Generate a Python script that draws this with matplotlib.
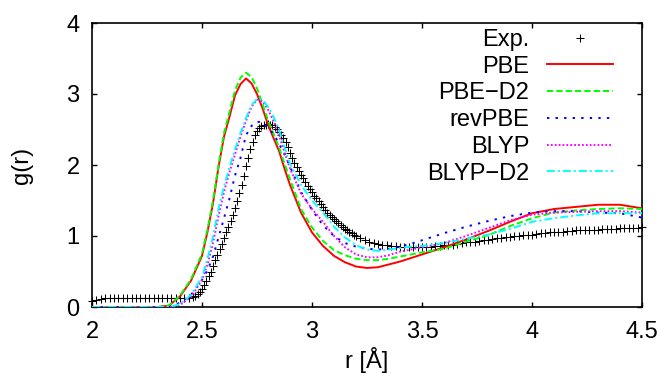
import matplotlib
matplotlib.use("Agg")
import matplotlib.pyplot as plt
import numpy as np

plt.rcParams['font.family'] = ['Liberation Sans', 'DejaVu Sans']

# ---------------- data ----------------
r_exp = [2.00, 2.02, 2.04, 2.06, 2.08, 2.10, 2.12, 2.14, 2.16, 2.18,
         2.20, 2.22, 2.24, 2.26, 2.28, 2.30, 2.32, 2.34, 2.36, 2.38,
         2.40, 2.42, 2.44, 2.46, 2.47, 2.48, 2.49, 2.50, 2.51, 2.52, 2.53,
         2.54, 2.55, 2.56, 2.57, 2.58, 2.59, 2.60, 2.61, 2.62, 2.63, 2.64,
         2.65, 2.66, 2.67, 2.68, 2.69, 2.70, 2.71, 2.72, 2.73, 2.74, 2.75,
         2.76, 2.77, 2.78, 2.79, 2.80, 2.81, 2.82, 2.83, 2.84, 2.85, 2.86,
         2.87, 2.88, 2.89, 2.90, 2.91, 2.92, 2.93, 2.94, 2.95, 2.96, 2.97,
         2.98, 2.99, 3.00, 3.01, 3.02, 3.03, 3.04, 3.05, 3.06, 3.07, 3.08,
         3.09, 3.10, 3.11, 3.12, 3.13, 3.14, 3.15, 3.16, 3.17, 3.18, 3.19,
         3.20, 3.22, 3.24, 3.26, 3.28, 3.30, 3.32, 3.34, 3.36, 3.38,
         3.40, 3.42, 3.44, 3.46, 3.48, 3.50, 3.52, 3.54, 3.56, 3.58,
         3.60, 3.62, 3.64, 3.66, 3.68, 3.70, 3.72, 3.74, 3.76, 3.78,
         3.80, 3.82, 3.84, 3.86, 3.88, 3.90, 3.92, 3.94, 3.96, 3.98,
         4.00, 4.02, 4.04, 4.06, 4.08, 4.10, 4.12, 4.14, 4.16, 4.18,
         4.20, 4.22, 4.24, 4.26, 4.28, 4.30, 4.32, 4.34, 4.36, 4.38,
         4.40, 4.42, 4.44, 4.46, 4.48, 4.50]
g_exp = [0.09, 0.10, 0.11, 0.12, 0.12, 0.13, 0.13, 0.13, 0.13, 0.12,
         0.12, 0.12, 0.12, 0.12, 0.12, 0.12, 0.12, 0.12, 0.12, 0.12,
         0.12, 0.12, 0.13, 0.14, 0.16, 0.18, 0.21, 0.25, 0.31, 0.37, 0.43,
         0.50, 0.58, 0.66, 0.73, 0.81, 0.89, 0.97, 1.05, 1.13, 1.21, 1.30,
         1.40, 1.50, 1.61, 1.72, 1.85, 1.98, 2.10, 2.22, 2.33, 2.42, 2.48,
         2.52, 2.55, 2.56, 2.57, 2.58, 2.57, 2.56, 2.54, 2.51, 2.47, 2.42,
         2.38, 2.33, 2.25, 2.17, 2.10, 2.03, 1.97, 1.91, 1.86, 1.81, 1.76,
         1.71, 1.66, 1.62, 1.57, 1.53, 1.49, 1.45, 1.41, 1.37, 1.33, 1.30,
         1.27, 1.24, 1.21, 1.18, 1.15, 1.13, 1.10, 1.08, 1.06, 1.04, 1.02,
         1.00, 0.97, 0.94, 0.92, 0.90, 0.89, 0.88, 0.87, 0.86, 0.86,
         0.85, 0.85, 0.84, 0.84, 0.84, 0.84, 0.85, 0.85, 0.86, 0.86,
         0.87, 0.88, 0.88, 0.89, 0.90, 0.91, 0.92, 0.92, 0.93, 0.94,
         0.95, 0.96, 0.97, 0.97, 0.98, 0.99, 1.00, 1.00, 1.01, 1.02,
         1.02, 1.03, 1.04, 1.04, 1.05, 1.05, 1.06, 1.06, 1.07, 1.07,
         1.08, 1.08, 1.08, 1.09, 1.09, 1.09, 1.10, 1.10, 1.10, 1.10,
         1.11, 1.11, 1.11, 1.11, 1.11, 1.12]

r_sim = [2.0, 2.1, 2.2, 2.3, 2.35, 2.4, 2.45, 2.5, 2.525, 2.55, 2.575, 2.6,
         2.625, 2.65, 2.675, 2.7, 2.725, 2.75, 2.775, 2.8, 2.825, 2.85, 2.875,
         2.9, 2.95, 3.0, 3.05, 3.1, 3.15, 3.2, 3.25, 3.3, 3.35, 3.4, 3.45, 3.5,
         3.6, 3.7, 3.8, 3.9, 4.0, 4.1, 4.2, 4.3, 4.4, 4.5]

g_pbe = [0, 0, 0, 0, 0.02, 0.15, 0.37, 0.72, 1.06, 1.46, 1.97, 2.40,
         2.68, 2.98, 3.14, 3.22, 3.15, 3.00, 2.80, 2.57, 2.38, 2.20, 1.95,
         1.72, 1.33, 1.05, 0.86, 0.72, 0.63, 0.57, 0.55, 0.56, 0.60, 0.64, 0.69, 0.74,
         0.84, 0.95, 1.07, 1.20, 1.32, 1.38, 1.41, 1.44, 1.44, 1.39]

g_pbe_d2 = [0, 0, 0, 0, 0.02, 0.16, 0.39, 0.75, 1.10, 1.50, 2.00, 2.45,
            2.75, 3.05, 3.23, 3.30, 3.24, 3.08, 2.86, 2.63, 2.44, 2.25, 2.02,
            1.80, 1.38, 1.12, 0.93, 0.80, 0.73, 0.68, 0.66, 0.66, 0.68, 0.71, 0.74, 0.77,
            0.82, 0.92, 1.01, 1.14, 1.25, 1.33, 1.36, 1.38, 1.39, 1.38]

g_revpbe = [0, 0, 0, 0, 0.0, 0.06, 0.17, 0.38, 0.52, 0.71, 0.98, 1.25,
            1.53, 1.85, 2.10, 2.42, 2.55, 2.61, 2.60, 2.52, 2.44, 2.30, 2.15,
            1.98, 1.62, 1.37, 1.15, 1.00, 0.90, 0.85, 0.82, 0.81, 0.82, 0.85, 0.89, 0.94,
            1.04, 1.13, 1.21, 1.28, 1.33, 1.35, 1.35, 1.33, 1.32, 1.26]

g_blyp = [0, 0, 0, 0, 0.0, 0.03, 0.14, 0.38, 0.60, 0.90, 1.28, 1.62,
          1.90, 2.15, 2.40, 2.62, 2.82, 2.92, 2.90, 2.78, 2.62, 2.42, 2.18,
          1.95, 1.60, 1.38, 1.20, 1.00, 0.84, 0.74, 0.70, 0.70, 0.73, 0.78, 0.81, 0.84,
          0.90, 1.00, 1.11, 1.22, 1.30, 1.33, 1.34, 1.35, 1.35, 1.33]

g_blyp_d2 = [0, 0, 0, 0, 0.0, 0.04, 0.17, 0.42, 0.68, 0.99, 1.38, 1.70,
             1.97, 2.22, 2.45, 2.66, 2.84, 2.93, 2.92, 2.82, 2.68, 2.50, 2.25,
             2.02, 1.72, 1.50, 1.33, 1.13, 0.98, 0.87, 0.81, 0.79, 0.81, 0.83, 0.85, 0.86,
             0.90, 0.96, 1.02, 1.10, 1.20, 1.25, 1.29, 1.32, 1.32, 1.32]

labels = ["Exp.", "PBE", "PBE\u2212D2", "revPBE", "BLYP", "BLYP\u2212D2"]
x_ticks = [2, 2.5, 3, 3.5, 4, 4.5]
x_ticklabels = ["2", "2.5", "3", "3.5", "4", "4.5"]
y_ticks = [0, 1, 2, 3, 4]
y_ticklabels = ["0", "1", "2", "3", "4"]

# ---------------- figure ----------------
W, H = 665, 383
fig = plt.figure(figsize=(W / 100, H / 100), dpi=100)
ax = fig.add_axes([92 / W, 1 - 307 / H, 550 / W, 284 / H])

FS = 17
lw = 1.4
ax.plot(r_exp, g_exp, ls='none', marker='+', ms=5.5, mew=0.75, color='k',
        label=labels[0], clip_on=False, zorder=1)
ax.plot(r_sim, g_pbe, color='#ff0000', lw=lw, ls='-', label=labels[1], zorder=3)
ax.plot(r_sim, g_pbe_d2, color='#00ff00', lw=lw, dashes=(3.2, 1.6), label=labels[2], zorder=3)
ax.plot(r_sim, g_revpbe, color='#0000ff', lw=lw, dashes=(1.2, 3.2), label=labels[3], zorder=3)
ax.plot(r_sim, g_blyp, color='#ff00ff', lw=lw, dashes=(0.9, 1.1), label=labels[4], zorder=3)
ax.plot(r_sim, g_blyp_d2, color='#00ffff', lw=lw, dashes=(4.0, 1.6, 1.0, 1.6), label=labels[5], zorder=3)

ax.set_xlim(2, 4.5)
ax.set_ylim(0, 4)
ax.set_xticks(x_ticks)
ax.set_xticklabels(x_ticklabels)
ax.set_yticks(y_ticks)
ax.set_yticklabels(y_ticklabels)
ax.tick_params(direction='in', top=True, right=True, length=3.5, width=1,
               labelsize=FS, pad=9)
ax.tick_params(axis='x', pad=10)
for s in ax.spines.values():
    s.set_linewidth(1.2)

ax.set_xlabel("r [\u00c5]", fontsize=FS)
ax.set_ylabel("g(r)", fontsize=FS)
ax.xaxis.set_label_coords(0.5, -0.14)
ax.yaxis.set_label_coords(-0.107, 0.5)

leg = ax.legend(loc='upper right', bbox_to_anchor=(613 / W, 1 - 29 / H),
                bbox_transform=fig.transFigure, frameon=False, markerfirst=False,
                fontsize=FS, handlelength=2.8, handletextpad=0.75,
                labelspacing=0.2, borderpad=0, borderaxespad=0, numpoints=1)

fig.savefig("out.png", dpi=100)
